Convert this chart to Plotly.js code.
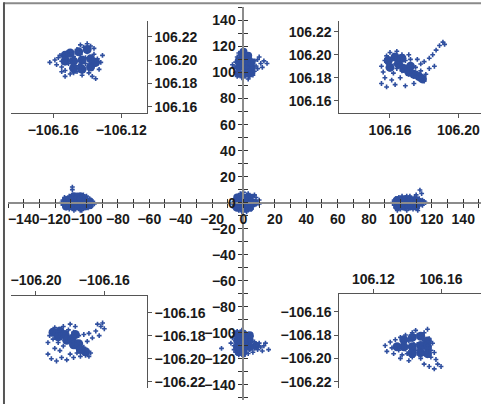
<!DOCTYPE html>
<html><head><meta charset="utf-8">
<script src="https://cdn.plot.ly/plotly-3.0.1.min.js"></script>
<style>html,body{margin:0;padding:0;background:#fff}#chart{width:481px;height:404px}</style>
</head><body><div id="chart"></div>
<script>
// ---------- main plot clusters (scattered points) ----------
const centerX = [-6,-5,-5,-4,-4,-3,-3,-2,-2,-2,-1,-1,-1,0,0,0,0,1,1,1,2,2,2,3,3,3,4,4,4,5,5,6,6,7,8,9,10,6,7,8,-7,-6,3,-3,1,-1,2,5,-4,10];
const centerY = [1,-2,3,5,-4,0,-6,3,7,-3,0,5,-7,2,-2,8,-5,4,-1,-6,1,6,-3,-1,3,-5,1,-3,5,-1,2,0,-3,1,-1,0,-1,5,6,4,-1,-4,7,3,1,-3,-7,-5,2,2];
const leftX = [-116,-115,-115,-114,-113,-113,-112,-112,-111,-111,-110,-110,-109,-109,-108,-108,-107,-107,-106,-106,-105,-105,-104,-104,-103,-103,-102,-102,-101,-101,-100,-100,-99,-99,-98,-97,-97,-96,-95,-109,-109,-114,-110,-106,-104,-102,-103,-108,-100,-111];
const leftY = [0,-2,2,4,-4,0,3,-2,5,-5,1,-2,6,-4,2,-1,4,-5,0,6,-3,3,1,-6,5,-2,2,-4,0,4,-2,2,-4,0,3,-1,-3,1,-1,12,10,-1,4,-3,-1,6,-6,-6,5,-1];
const rightX = [95,96,96,97,97,98,99,99,100,100,101,101,102,102,103,103,104,104,105,105,106,106,107,107,108,108,109,109,110,110,111,111,112,112,113,114,115,116,112.4,113.5,110,104,98,102,106,100,108,111,114,97];
const rightY = [0,-2,2,3,-4,0,-3,4,1,-5,-2,5,2,-4,0,4,-3,-6,2,-1,5,-4,1,-2,3,-5,0,4,-2,2,-4,1,3,-1,0,2,1,0,9.7,7,6,5,-6,-1,0,3,-1,-6,-2,1];
const topX = [-6,-5,-5,-4,-4,-3,-3,-2,-2,-1,-1,-1,0,0,0,0,1,1,1,2,2,2,3,3,3,4,4,4,5,5,6,6,7,7,8,9,10,11,13,15,-7,-2,1,3,-3,6,12,9,0,2];
const topY = [104,100,108,112,97,104,115,101,109,96,106,113,99,103,110,116,97,106,112,101,108,114,99,104,111,97,107,102,100,110,104,107,101,109,105,103,112,107,109,107,106,105,102,95,110,98,104,110,107,104];
const bottomX = [-7,-6,-6,-5,-5,-4,-4,-4,-3,-3,-2,-2,-2,-1,-1,-1,0,0,0,0,1,1,1,2,2,2,3,3,4,4,5,5,6,7,8,9,10,11,12,13,16,14,-14,-8,6,-3,1,3,7,-6];
const bottomY = [-104,-100,-110,-106,-115,-99,-102,-112,-107,-117,-100,-104,-111,-98,-108,-114,-102,-106,-112,-118,-100,-109,-115,-104,-107,-112,-101,-110,-106,-113,-103,-109,-111,-107,-110,-113,-108,-111,-114,-110,-113,-108,-112,-108,-115,-103,-105,-116,-112,-113];

// ---------- main plot clusters (dense cores) ----------
const centerCoreX = [-4,0,4,-4,0,4,-4,0,4,7];
const centerCoreY = [-4,-4,-4,0,0,0,4,4,4,0];
const leftCoreX = [-113,-109,-105,-101,-98,-113,-109,-105,-101,-98,-108,-104];
const leftCoreY = [-3,-3,-3,-3,-2,2,2,2,2,1,5,5];
const rightCoreX = [98,102,106,110,98,102,106,110,113];
const rightCoreY = [-3,-3,-3,-3,2,2,2,2,0];
const topCoreX = [-3,1,5,-3,1,5,-3,1,5,-1,3,0];
const topCoreY = [99,99,100,104,104,104,109,109,108,114,113,116];
const bottomCoreX = [-4,0,4,-4,0,4,-4,0,4,8,0,-3];
const bottomCoreY = [-101,-101,-102,-106,-106,-106,-111,-111,-111,-110,-115,-115];

// ---------- inset clusters (scattered points) ----------
const tlX = [-106.162,-106.159,-106.158,-106.157,-106.155,-106.155,-106.154,-106.153,-106.152,-106.151,-106.150,-106.150,-106.149,-106.148,-106.147,-106.146,-106.146,-106.145,-106.144,-106.143,-106.142,-106.142,-106.141,-106.140,-106.139,-106.138,-106.138,-106.137,-106.136,-106.135,-106.134,-106.133,-106.132,-106.135,-106.137,-106.144,-106.140,-106.152,-106.148,-106.143,-106.131,-106.153,-106.156,-106.147,-106.141,-106.150,-106.144,-106.139,-106.136,-106.155];
const tlY = [106.198,106.200,106.196,106.202,106.199,106.194,106.205,106.191,106.201,106.197,106.207,106.188,106.193,106.203,106.199,106.209,106.190,106.195,106.205,106.200,106.211,106.192,106.197,106.207,106.202,106.212,106.194,106.199,106.205,106.196,106.201,106.192,106.198,106.184,106.186,106.213,106.214,106.206,106.189,106.187,106.204,106.186,106.204,106.195,106.202,106.200,106.196,106.189,106.210,106.190];
const trX = [106.155,106.156,106.157,106.157,106.158,106.159,106.160,106.160,106.161,106.162,106.162,106.163,106.164,106.164,106.165,106.166,106.167,106.167,106.168,106.169,106.170,106.171,106.172,106.173,106.174,106.175,106.176,106.177,106.178,106.179,106.180,106.181,106.176,106.180,106.183,106.185,106.187,106.189,106.191,106.192,106.186,106.183,106.155,106.158,106.163,106.169,106.174,106.171,106.166,106.172,106.161,106.178];
const trY = [106.190,106.185,106.195,106.180,106.199,106.192,106.188,106.202,106.196,106.184,106.199,106.192,106.203,106.188,106.196,106.192,106.186,106.200,106.190,106.195,106.187,106.183,106.191,106.186,106.181,106.189,106.184,106.179,106.186,106.181,106.177,106.183,106.196,106.194,106.197,106.200,106.204,106.208,106.211,106.209,106.190,106.188,106.175,106.172,106.174,106.173,106.175,106.200,106.180,106.196,106.178,106.192];
const blX = [-106.193,-106.192,-106.191,-106.190,-106.189,-106.188,-106.187,-106.186,-106.185,-106.184,-106.183,-106.182,-106.181,-106.180,-106.179,-106.178,-106.177,-106.176,-106.175,-106.174,-106.173,-106.172,-106.171,-106.170,-106.169,-106.168,-106.172,-106.169,-106.167,-106.165,-106.163,-106.162,-106.161,-106.164,-106.160,-106.193,-106.191,-106.188,-106.185,-106.182,-106.180,-106.186,-106.178,-106.184,-106.177,-106.170,-106.174,-106.189,-106.176,-106.180];
const blY = [-106.186,-106.180,-106.176,-106.183,-106.173,-106.179,-106.186,-106.175,-106.182,-106.172,-106.178,-106.185,-106.175,-106.181,-106.188,-106.177,-106.184,-106.191,-106.180,-106.187,-106.194,-106.190,-106.197,-106.193,-106.198,-106.195,-106.179,-106.178,-106.182,-106.176,-106.180,-106.172,-106.169,-106.170,-106.174,-106.196,-106.200,-106.202,-106.199,-106.201,-106.196,-106.193,-106.199,-106.189,-106.172,-106.185,-106.198,-106.191,-106.195,-106.170];
const brX = [106.127,106.128,106.130,106.131,106.132,106.133,106.134,106.135,106.136,106.137,106.138,106.139,106.139,106.140,106.141,106.142,106.143,106.143,106.144,106.145,106.145,106.146,106.147,106.148,106.148,106.149,106.150,106.150,106.151,106.152,106.152,106.153,106.154,106.154,106.155,106.156,106.157,106.158,106.160,106.156,106.150,106.153,106.136,106.141,106.146,106.149,106.144,106.138,106.147,106.141];
const brY = [-106.189,-106.194,-106.186,-106.191,-106.196,-106.184,-106.189,-106.193,-106.182,-106.197,-106.187,-106.192,-106.180,-106.196,-106.185,-106.190,-106.178,-106.199,-106.183,-106.193,-106.176,-106.188,-106.197,-106.181,-106.200,-106.191,-106.185,-106.178,-106.195,-106.189,-106.175,-106.183,-106.193,-106.199,-106.187,-106.195,-106.201,-106.205,-106.207,-106.209,-106.205,-106.207,-106.200,-106.202,-106.180,-106.196,-106.188,-106.185,-106.192,-106.195];

// ---------- inset clusters (dense cores) ----------
const tlCoreX = [-106.153,-106.148,-106.143,-106.138,-106.153,-106.148,-106.143,-106.138,-106.150,-106.145,-106.140,-106.135];
const tlCoreY = [106.199,106.193,106.192,106.194,106.204,106.199,106.200,106.201,106.206,106.207,106.209,106.198];
const trCoreX = [106.159,106.163,106.160,106.165,106.168,106.171,106.174,106.177,106.179,106.167,106.172];
const trCoreY = [106.195,106.198,106.189,106.192,106.188,106.185,106.183,106.181,106.179,106.197,106.190];
const blCoreX = [-106.190,-106.186,-106.187,-106.183,-106.182,-106.179,-106.178,-106.175,-106.174,-106.171,-106.177];
const blCoreY = [-106.177,-106.176,-106.181,-106.179,-106.184,-106.183,-106.188,-106.187,-106.192,-106.194,-106.179];
const brCoreX = [106.138,106.143,106.148,106.152,106.138,106.143,106.148,106.152,106.143,106.148,106.152,106.134];
const brCoreY = [-106.184,-106.182,-106.181,-106.185,-106.190,-106.190,-106.189,-106.190,-106.196,-106.195,-106.196,-106.190];

// ---------- tick labels ----------
const mainTicks = [-140,-120,-100,-80,-60,-40,-20,0,20,40,60,80,100,120,140];
const mainMinorTicks = [-150,-130,-110,-90,-70,-50,-30,-10,10,30,50,70,90,110,130,150];
const tlXTicks = [-106.16,-106.12];
const trXTicks = [106.16,106.20];
const blXTicks = [-106.20,-106.16];
const brXTicks = [106.12,106.16];
const posYTicks = [106.16,106.18,106.20,106.22];
const negYTicks = [-106.22,-106.20,-106.18,-106.16];

const BLUE = '#2f4f9f';
const FONT = {family:'"Liberation Sans", Arial, sans-serif', size:14, color:'#1a1a1a', weight:700};
const MX = [-150, 151.3], MY = [-151.7, 150.4];
const xPos0 = (0 - MY[0]) / (MY[1] - MY[0]);
const yPos0 = (0 - MX[0]) / (MX[1] - MX[0]);

function pts(x, y, xa, ya, size) {
  return {type:'scatter', mode:'markers', x:x, y:y, xaxis:xa, yaxis:ya, hoverinfo:'skip', showlegend:false,
          cliponaxis:false, marker:{symbol:'cross', size:size, color:BLUE, line:{width:0}}};
}
function core(x, y, xa, ya, size) {
  return {type:'scatter', mode:'markers', x:x, y:y, xaxis:xa, yaxis:ya, hoverinfo:'skip', showlegend:false,
          cliponaxis:false, marker:{symbol:'circle', size:size, color:BLUE, line:{width:0}}};
}
const traces = [
  core(centerCoreX, centerCoreY, 'x', 'y', 8), pts(centerX, centerY, 'x', 'y', 4),
  core(leftCoreX, leftCoreY, 'x', 'y', 8), pts(leftX, leftY, 'x', 'y', 4),
  core(rightCoreX, rightCoreY, 'x', 'y', 8), pts(rightX, rightY, 'x', 'y', 4),
  core(topCoreX, topCoreY, 'x', 'y', 8), pts(topX, topY, 'x', 'y', 4),
  core(bottomCoreX, bottomCoreY, 'x', 'y', 8), pts(bottomX, bottomY, 'x', 'y', 4),
  {type:'scatter', mode:'markers', x:[], y:[], xaxis:'x2', yaxis:'y2', showlegend:false},
  core(tlCoreX, tlCoreY, 'x3', 'y3', 9), pts(tlX, tlY, 'x3', 'y3', 4),
  core(trCoreX, trCoreY, 'x4', 'y4', 9), pts(trX, trY, 'x4', 'y4', 4),
  core(blCoreX, blCoreY, 'x5', 'y5', 9), pts(blX, blY, 'x5', 'y5', 4),
  core(brCoreX, brCoreY, 'x6', 'y6', 9), pts(brX, brY, 'x6', 'y6', 4)
];

const mainCommon = {showgrid:false, zeroline:false, fixedrange:true, tickcolor:'#333', tickwidth:1, ticklen:4, tickangle:0, ticklabeloverflow:'allow'};
function insetAxis(range, ticks, side, anchor, domain, fmt) {
  return {range:range, domain:domain, anchor:anchor, side:side, tickmode:'array', tickvals:ticks, tickformat:fmt,
          showline:true, linecolor:'#555', linewidth:1, ticks:'outside', ticklen:4, tickcolor:'#555', tickwidth:1,
          showgrid:false, zeroline:false, tickfont:FONT, fixedrange:true, tickangle:0, ticklabeloverflow:'allow'};
}
const dxL = [0.0057, 0.2932], dxR = [0.7004, 1];
const layout = {
  width:481, height:404,
  margin:{l:8, r:0, t:7, b:4, pad:0},
  paper_bgcolor:'#fff', plot_bgcolor:'rgba(0,0,0,0)',
  showlegend:false,
  xaxis: Object.assign({}, mainCommon, {domain:[0,1], range:MX, anchor:'free', position:xPos0, side:'bottom',
          showline:true, linecolor:'#8c8c8c', linewidth:2, ticks:'outside', tickmode:'array', tickvals:mainTicks,
          tickfont:FONT, minor:{tickmode:'array', tickvals:mainMinorTicks, ticks:'outside', ticklen:4, tickcolor:'#333', showgrid:false}}),
  yaxis: Object.assign({}, mainCommon, {domain:[0,1], range:MY, anchor:'free', position:yPos0, side:'left',
          showline:true, linecolor:'#8c8c8c', linewidth:2, ticks:'outside', tickmode:'array', tickvals:mainTicks,
          tickfont:FONT, minor:{tickmode:'array', tickvals:mainMinorTicks, ticks:'outside', ticklen:4, tickcolor:'#333', showgrid:false}}),
  xaxis2: Object.assign({}, mainCommon, {overlaying:'x', range:MX, anchor:'free', position:xPos0, side:'bottom',
          showline:false, ticks:'inside', tickmode:'array', tickvals:mainTicks, showticklabels:false,
          minor:{tickmode:'array', tickvals:mainMinorTicks, ticks:'inside', ticklen:4, tickcolor:'#333', showgrid:false}}),
  yaxis2: Object.assign({}, mainCommon, {overlaying:'y', range:MY, anchor:'free', position:yPos0, side:'left',
          showline:false, ticks:'inside', tickmode:'array', tickvals:mainTicks, showticklabels:false,
          minor:{tickmode:'array', tickvals:mainMinorTicks, ticks:'inside', ticklen:4, tickcolor:'#333', showgrid:false}}),
  xaxis3: insetAxis([-106.185, -106.105], tlXTicks, 'bottom', 'y3', dxL, '.2f'),
  yaxis3: insetAxis([106.1543, 106.2337], posYTicks, 'right', 'x3', [0.7295, 0.9651], '.2f'),
  xaxis4: insetAxis([106.1303, 106.2133], trXTicks, 'bottom', 'y4', dxR, '.2f'),
  yaxis4: insetAxis([106.1496, 106.2296], posYTicks, 'left', 'x4', [0.7310, 0.9651], '.2f'),
  xaxis5: insetAxis([-106.2148, -106.1352], blXTicks, 'top', 'y5', dxL, '.2f'),
  yaxis5: insetAxis([-106.2257, -106.1453], negYTicks, 'right', 'x5', [0.0298, 0.2654], '.2f'),
  xaxis6: insetAxis([106.0999, 106.1836], brXTicks, 'top', 'y6', dxR, '.2f'),
  yaxis6: insetAxis([-106.2257, -106.145], negYTicks, 'left', 'x6', [0.0298, 0.2690], '.2f'),
  shapes: [
    {type:'line', xref:'paper', yref:'paper', x0:-0.0085, x1:1.02, y0:1.0095, y1:1.0095, line:{color:'#8a8a8a', width:2}},
    {type:'line', xref:'paper', yref:'paper', x0:-0.0085, x1:-0.0085, y0:-0.02, y1:1.012, line:{color:'#555', width:2}}
  ]
};
Plotly.newPlot('chart', traces, layout, {staticPlot:true, displayModeBar:false});
</script>
</body></html>
